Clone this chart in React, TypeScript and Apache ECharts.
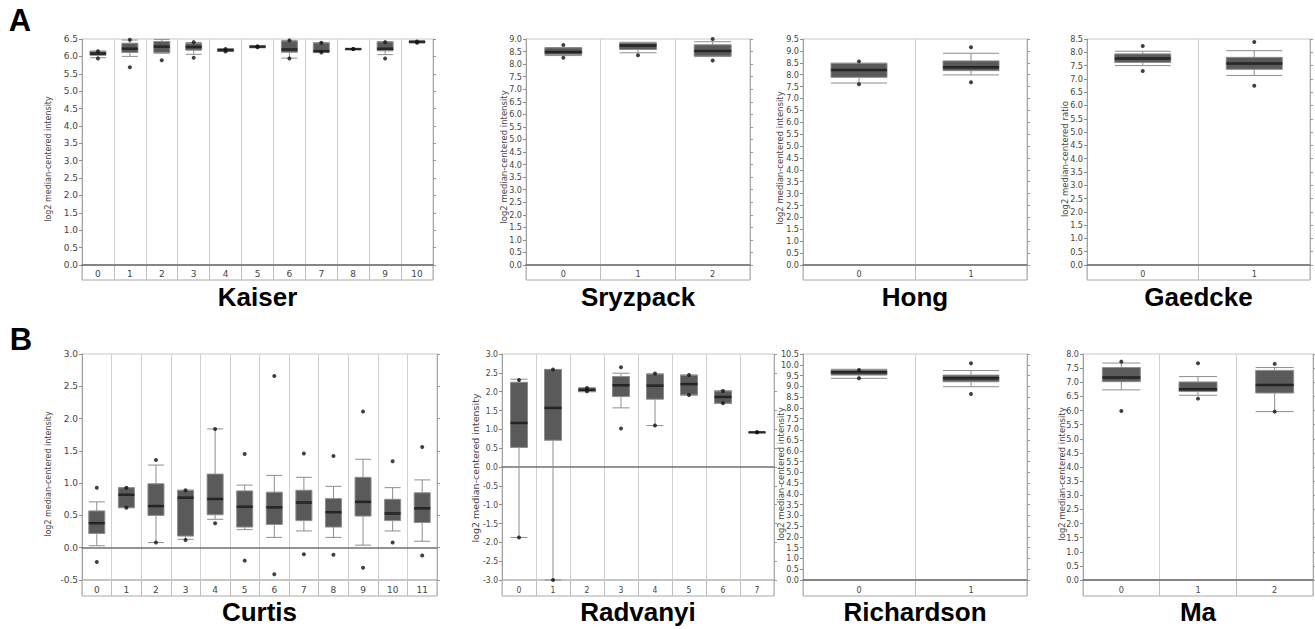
import React, { useEffect, useRef } from 'react';
import * as echarts from 'echarts';

// ---------- DATA ----------
// Box rows: [p10 whisker, Q1, median, Q3, p90 whisker]; extremes: [min dot, max dot]
const kaiserCats = ['0', '1', '2', '3', '4', '5', '6', '7', '8', '9', '10'];
const kaiserBoxes = [
  [5.96, 6.03, 6.08, 6.15, 6.15],
  [6.0, 6.11, 6.22, 6.38, 6.47],
  [6.09, 6.11, 6.28, 6.43, 6.49],
  [6.06, 6.18, 6.27, 6.37, 6.4],
  [6.14, 6.14, 6.18, 6.22, 6.22],
  [6.25, 6.25, 6.28, 6.3, 6.3],
  [5.95, 6.12, 6.2, 6.44, 6.46],
  [6.11, 6.12, 6.15, 6.39, 6.39],
  [6.2, 6.2, 6.21, 6.22, 6.22],
  [6.05, 6.16, 6.22, 6.42, 6.42],
  [6.39, 6.39, 6.42, 6.44, 6.44],
];
const kaiserExtremes = [
  [5.94, 6.15], [5.69, 6.48], [5.89, 6.51], [5.96, 6.41], [6.14, 6.21], [6.26, 6.29],
  [5.94, 6.46], [6.11, 6.39], [6.21, 6.21], [5.94, 6.41], [6.39, 6.43],
];

const sryzpackCats = ['0', '1', '2'];
const sryzpackBoxes = [
  [8.34, 8.38, 8.48, 8.65, 8.66],
  [8.45, 8.58, 8.74, 8.84, 8.87],
  [8.3, 8.32, 8.52, 8.77, 8.89],
];
const sryzpackExtremes = [[8.25, 8.76], [8.35, 9.03], [8.14, 9.0]];

const hongCats = ['0', '1'];
const hongBoxes = [
  [7.65, 7.89, 8.2, 8.48, 8.48],
  [7.99, 8.17, 8.31, 8.58, 8.9],
];
const hongExtremes = [[7.6, 8.56], [7.68, 9.15]];

const gaedckeCats = ['0', '1'];
const gaedckeBoxes = [
  [7.5, 7.62, 7.77, 7.94, 8.04],
  [7.13, 7.36, 7.58, 7.81, 8.06],
];
const gaedckeExtremes = [[7.3, 8.24], [6.74, 8.39]];

const curtisCats = ['0', '1', '2', '3', '4', '5', '6', '7', '8', '9', '10', '11'];
const curtisBoxes = [
  [0.03, 0.22, 0.38, 0.57, 0.71],
  [0.62, 0.62, 0.82, 0.93, 0.93],
  [0.08, 0.5, 0.645, 0.99, 1.28],
  [0.13, 0.18, 0.775, 0.89, 0.89],
  [0.44, 0.51, 0.755, 1.14, 1.84],
  [0.28, 0.32, 0.635, 0.88, 0.97],
  [0.16, 0.36, 0.625, 0.86, 1.12],
  [0.26, 0.42, 0.7, 0.89, 1.09],
  [0.16, 0.32, 0.55, 0.76, 0.95],
  [0.04, 0.49, 0.71, 1.09, 1.37],
  [0.26, 0.42, 0.53, 0.75, 0.93],
  [0.1, 0.39, 0.61, 0.85, 1.05],
];
const curtisExtremes = [
  [-0.22, 0.93], [0.62, 0.93], [0.08, 1.36], [0.12, 0.89], [0.38, 1.84], [-0.2, 1.45],
  [-0.41, 2.66], [-0.1, 1.46], [-0.11, 1.42], [-0.31, 2.11], [0.08, 1.34], [-0.12, 1.56],
];

const radvanyiCats = ['0', '1', '2', '3', '4', '5', '6', '7'];
const radvanyiBoxes = [
  [-1.87, 0.52, 1.17, 2.25, 2.33],
  [-3.0, 0.71, 1.57, 2.59, 2.59],
  [2.0, 2.0, 2.05, 2.1, 2.1],
  [1.57, 1.87, 2.17, 2.4, 2.49],
  [1.1, 1.8, 2.16, 2.47, 2.47],
  [1.91, 1.91, 2.2, 2.44, 2.44],
  [1.69, 1.69, 1.86, 2.02, 2.02],
  [0.92, 0.92, 0.92, 0.92, 0.92],
];
const radvanyiExtremes = [
  [-1.87, 2.31], [-3.0, 2.59], [2.01, 2.1], [1.02, 2.65], [1.1, 2.48], [1.91, 2.44], [1.69, 2.02], [0.92, 0.92],
];

const richardsonCats = ['0', '1'];
const richardsonBoxes = [
  [9.37, 9.52, 9.65, 9.76, 9.79],
  [8.98, 9.21, 9.37, 9.52, 9.73],
];
const richardsonExtremes = [[9.37, 9.76], [8.64, 10.07]];

const maCats = ['0', '1', '2'];
const maBoxes = [
  [6.73, 7.02, 7.17, 7.52, 7.68],
  [6.54, 6.67, 6.75, 7.01, 7.2],
  [5.96, 6.62, 6.9, 7.42, 7.52],
];
const maExtremes = [[5.98, 7.73], [6.42, 7.67], [5.96, 7.65]];

const panelTitles = ['Kaiser', 'Sryzpack', 'Hong', 'Gaedcke', 'Curtis', 'Radvanyi', 'Richardson', 'Ma'];
const yNames = [
  'log2 median-centered intensity',
  'log2 median-centered intensity',
  'log2 median-centered intensity',
  'log2 median-centered ratio',
  'log2 median-centered intensity',
  'log2 median-centered intensity',
  'log2 median-centered intensity',
  'log2 median-centered intensity',
];
const yRanges = [
  [0, 6.5], [0, 9], [0, 9.5], [0, 8.5], [-0.5, 3], [-3, 3], [0, 10.5], [0, 8],
];

// ---------- LAYOUT / STYLE ----------
const WIDE = "'DejaVu Sans', Verdana, sans-serif";
const NARROW = "'Liberation Sans Narrow', 'DejaVu Sans Condensed', 'Arial Narrow', sans-serif";
const COND = "'DejaVu Sans Condensed', 'Liberation Sans Narrow', sans-serif";

const layouts = [
  { left: 82, width: 351, top: 39, height: 226, band: 15, box: 16, font: WIDE, fs: 9, nameX: 48, nameY: 159, nameFs: 8, titleY: 297 },
  { left: 526, width: 224, top: 39, height: 226, band: 15, box: 37, font: NARROW, fs: 9, nameX: 504, nameY: 157, nameFs: 8.5, titleY: 297 },
  { left: 803, width: 224, top: 39, height: 226, band: 15, box: 56, font: NARROW, fs: 9, nameX: 780, nameY: 158, nameFs: 8.5, titleY: 297 },
  { left: 1087, width: 223, top: 39, height: 226, band: 15, box: 56, font: NARROW, fs: 9, nameX: 1065, nameY: 159, nameFs: 8.5, titleY: 297 },
  { left: 82, width: 355, top: 354, height: 226, band: 16, box: 16, font: WIDE, fs: 9, nameX: 48, nameY: 474, nameFs: 8, titleY: 612 },
  { left: 502, width: 272, top: 354, height: 226, band: 16, box: 17, font: COND, fs: 8.5, nameX: 475, nameY: 468, nameFs: 9.5, titleY: 612 },
  { left: 803, width: 224, top: 354, height: 226, band: 16, box: 56, font: NARROW, fs: 9, nameX: 781, nameY: 474, nameFs: 8.5, titleY: 612 },
  { left: 1083, width: 230, top: 354, height: 226, band: 16, box: 38, font: NARROW, fs: 9, nameX: 1062, nameY: 474, nameFs: 8.5, titleY: 612 },
];

const panelData = [
  { cats: kaiserCats, boxes: kaiserBoxes, ext: kaiserExtremes },
  { cats: sryzpackCats, boxes: sryzpackBoxes, ext: sryzpackExtremes },
  { cats: hongCats, boxes: hongBoxes, ext: hongExtremes },
  { cats: gaedckeCats, boxes: gaedckeBoxes, ext: gaedckeExtremes },
  { cats: curtisCats, boxes: curtisBoxes, ext: curtisExtremes },
  { cats: radvanyiCats, boxes: radvanyiBoxes, ext: radvanyiExtremes },
  { cats: richardsonCats, boxes: richardsonBoxes, ext: richardsonExtremes },
  { cats: maCats, boxes: maBoxes, ext: maExtremes },
];

function buildOption() {
  const grid: any[] = [];
  const xAxis: any[] = [];
  const yAxis: any[] = [];
  const series: any[] = [];
  const graphic: any[] = [];

  panelData.forEach((d, i) => {
    const L = layouts[i];
    const [yMin, yMax] = yRanges[i];
    const gPlot = grid.length;
    grid.push({ left: L.left, top: L.top, width: L.width, height: L.height, show: true, borderColor: '#c6c6c6', borderWidth: 1, backgroundColor: '#fff', containLabel: false });
    const gBand = grid.length;
    grid.push({ left: L.left, top: L.top + L.height, width: L.width, height: L.band, show: true, borderColor: '#a8a8a8', borderWidth: 1, containLabel: false });

    const xPlot = xAxis.length;
    xAxis.push({
      type: 'category', gridIndex: gPlot, data: d.cats, boundaryGap: true,
      axisLine: { show: true, onZero: true, lineStyle: { color: '#707070', width: 1.5 } },
      axisTick: { show: false }, axisLabel: { show: false },
      splitLine: { show: true, interval: 0, lineStyle: { color: '#d0d0d0', width: 1 } },
    });
    xAxis.push({
      type: 'category', gridIndex: gBand, data: d.cats, boundaryGap: true, position: 'bottom',
      axisLine: { show: false }, axisTick: { show: false },
      axisLabel: { show: true, inside: true, margin: 2, interval: 0, color: '#444', fontSize: L.fs, fontFamily: L.font },
      splitLine: { show: true, interval: 0, lineStyle: { color: '#bdbdbd', width: 1 } },
    });

    const yLeft = yAxis.length;
    yAxis.push({
      type: 'value', gridIndex: gPlot, position: 'left', min: yMin, max: yMax, interval: 0.5,
      axisLine: { show: true, lineStyle: { color: '#a0a0a0' } },
      axisTick: { show: true, length: 3, lineStyle: { color: '#8c8c8c' } },
      axisLabel: { margin: 4, color: '#444', fontSize: L.fs, fontFamily: L.font, formatter: (v: number) => v.toFixed(1) },
      splitLine: { show: false },
    });
    yAxis.push({
      type: 'value', gridIndex: gPlot, position: 'right', min: yMin, max: yMax, interval: 0.5,
      axisLine: { show: true, lineStyle: { color: '#a8a8a8' } },
      axisTick: { show: true, length: 3, lineStyle: { color: '#9a9a9a' } },
      axisLabel: { show: false }, splitLine: { show: false },
    });
    yAxis.push({ type: 'value', gridIndex: gBand, min: 0, max: 1, show: false, splitLine: { show: false } });

    series.push({
      type: 'boxplot', xAxisIndex: xPlot, yAxisIndex: yLeft, data: d.boxes,
      boxWidth: [L.box, L.box], silent: true, z: 3,
      itemStyle: { color: '#5a5a5a', borderColor: '#8d8d8d', borderWidth: 1 },
    });
    series.push({
      type: 'scatter', xAxisIndex: xPlot, yAxisIndex: yLeft, silent: true, z: 4,
      data: d.boxes.map((b, k) => [k, b[2]]),
      symbol: 'rect', symbolSize: [L.box, 2.5], itemStyle: { color: '#111' },
    });
    const dots: number[][] = [];
    d.ext.forEach((e, k) => { dots.push([k, e[0]]); dots.push([k, e[1]]); });
    series.push({
      type: 'scatter', xAxisIndex: xPlot, yAxisIndex: yLeft, silent: true, z: 5,
      data: dots, symbol: 'circle', symbolSize: 4, itemStyle: { color: '#111' },
    });

    graphic.push({
      type: 'text', x: L.nameX, y: L.nameY, rotation: Math.PI / 2, silent: true,
      style: { text: yNames[i], font: `${L.nameFs}px 'DejaVu Sans', sans-serif`, fill: '#444', align: 'center', verticalAlign: 'middle' },
    });
    graphic.push({
      type: 'text', x: L.left + L.width / 2, y: L.titleY, silent: true,
      style: { text: panelTitles[i], font: "bold 26px 'Liberation Sans', Arial, sans-serif", fill: '#000', align: 'center', verticalAlign: 'middle' },
    });
  });

  graphic.push({ type: 'text', x: 20, y: 20, silent: true, style: { text: 'A', font: "bold 31px 'Liberation Sans', Arial, sans-serif", fill: '#000', align: 'center', verticalAlign: 'middle' } });
  graphic.push({ type: 'text', x: 21, y: 339, silent: true, style: { text: 'B', font: "bold 31px 'Liberation Sans', Arial, sans-serif", fill: '#000', align: 'center', verticalAlign: 'middle' } });

  return { animation: false, backgroundColor: '#fff', grid, xAxis, yAxis, series, graphic };
}

export default function App() {
  const ref = useRef<HTMLDivElement>(null);
  useEffect(() => {
    document.body.style.margin = '0';
    const chart = echarts.init(ref.current as HTMLDivElement, null, { renderer: 'svg' });
    chart.setOption(buildOption() as any);
    return () => chart.dispose();
  }, []);
  return <div ref={ref} style={{ position: 'absolute', left: 0, top: 0, width: 1315, height: 629, background: '#fff' }} />;
}
